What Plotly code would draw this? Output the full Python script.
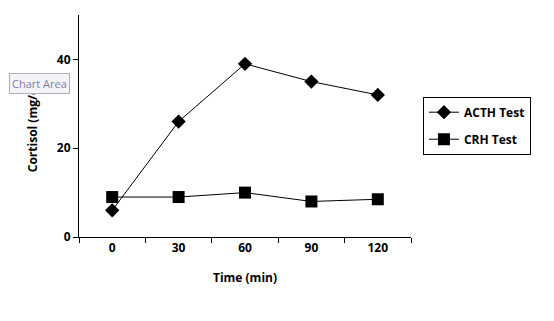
import plotly.graph_objects as go

times = ["0", "30", "60", "90", "120"]
acth = [6, 26, 39, 35, 32]
crh = [9, 9, 10, 8, 8.5]

fnt = "Open Sans"
fig = go.Figure()
fig.add_trace(go.Scatter(x=times, y=acth, name="ACTH Test", mode="lines+markers",
                         legendgroup="a",
                         line=dict(color="black", width=1),
                         marker=dict(symbol="diamond", size=11, color="black")))
fig.add_trace(go.Scatter(x=times, y=crh, name="CRH Test", mode="lines+markers",
                         legendgroup="b",
                         line=dict(color="black", width=1),
                         marker=dict(symbol="square", size=12, color="black")))

fig.update_layout(
    width=546, height=313,
    margin=dict(l=71, r=143, t=7, b=84, autoexpand=False),
    paper_bgcolor="white", plot_bgcolor="white",
    font=dict(family=fnt, size=12, color="black"),
    legend=dict(x=1.036, y=0.632, xanchor="left", yanchor="top",
                bordercolor="black", borderwidth=1,
                font=dict(family=fnt, size=12, color="black", weight="bold"),
                tracegroupgap=8, itemwidth=30),
    xaxis=dict(type="category", range=[-0.5, 4.5], showline=True, linecolor="black",
               linewidth=1, ticks="outside", tickson="boundaries", ticklen=5,
               tickcolor="black", showgrid=False, zeroline=False, automargin=False,
               tickfont=dict(family=fnt, size=12, weight="bold"),
               title=dict(text="<b>Time (min)</b>", standoff=18,
                          font=dict(family=fnt, size=12))),
    yaxis=dict(range=[0, 50], tickvals=[0, 20, 40], showline=True, linecolor="black",
               linewidth=1, ticks="outside", ticklen=5, tickcolor="black",
               showgrid=False, zeroline=False, automargin=False,
               tickfont=dict(family=fnt, size=12, weight="bold"),
               title=dict(text="<b>Cortisol (mg/dl)</b>", standoff=16,
                          font=dict(family=fnt, size=12))),
)

fig.add_annotation(xref="paper", yref="paper", x=-0.212, y=(237 - 83) / 222,
                   xanchor="left", yanchor="middle", text="Chart Area", showarrow=False,
                   font=dict(family=fnt, size=11, color="#8080a0"),
                   bgcolor="#f4f4f8", bordercolor="#b0b0b0", borderwidth=1, borderpad=2)

fig.write_html("out.html")
